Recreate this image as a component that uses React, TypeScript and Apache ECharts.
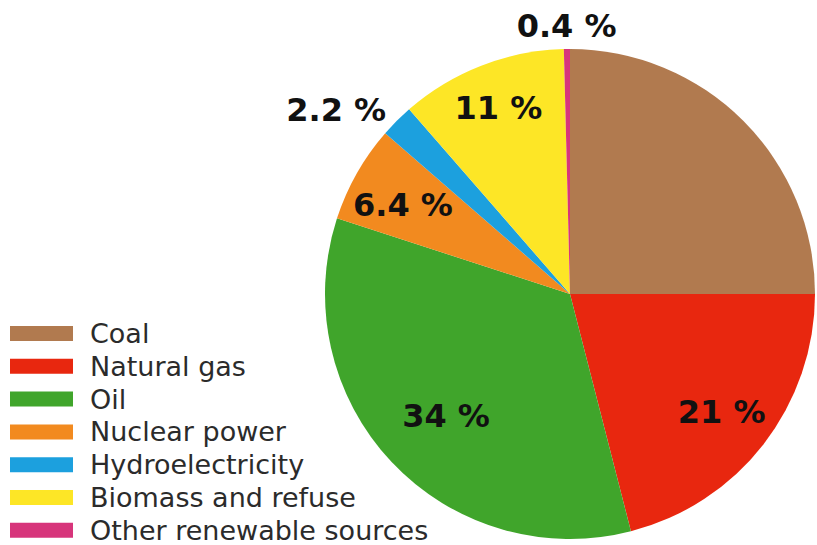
import { useEffect, useRef } from "react";
import * as echarts from "echarts";

const categories = [
  "Coal",
  "Natural gas",
  "Oil",
  "Nuclear power",
  "Hydroelectricity",
  "Biomass and refuse",
  "Other renewable sources",
];
const shares = [25, 21, 34, 6.4, 2.2, 11, 0.4];
const colors = ["#b17a4f", "#e8270f", "#40a52b", "#f28a1f", "#1ca0de", "#fde626", "#d7357b"];
const innerLabelled = ["Natural gas", "Oil", "Nuclear power", "Biomass and refuse"];
const outsideLabelled = ["Hydroelectricity"];
const topLabelled = ["Other renewable sources"];

export default function App() {
  const ref = useRef<HTMLDivElement>(null);
  useEffect(() => {
    const chart = echarts.init(ref.current!, null, { renderer: "svg" });
    const labelFont = {
      fontFamily: "DejaVu Sans",
      fontWeight: "bold" as const,
      fontSize: 32,
      color: "#111",
    };
    const fmt = (p: any) => `${p.value} %`;
    const center = [570, 294];
    const nudges: Record<string, { dx: number; dy: number }> = {
      Oil: { dx: 16, dy: -9 },
      "Nuclear power": { dx: 0, dy: 6 },
      "Biomass and refuse": { dx: -2, dy: -7 },
    };

    const mainData = categories.map((name, i) => ({
      name,
      value: shares[i],
      itemStyle: { color: colors[i] },
      label: { show: outsideLabelled.includes(name) },
    }));
    const innerData = categories.map((name, i) => ({
      name,
      value: shares[i],
      itemStyle: { color: "rgba(0,0,0,0)" },
      label: { show: innerLabelled.includes(name) },
    }));
    const topData = categories.map((name, i) => ({
      name,
      value: shares[i],
      itemStyle: { color: "rgba(0,0,0,0)" },
      label: { show: topLabelled.includes(name) },
    }));

    chart.setOption({
      animation: false,
      legend: {
        data: categories,
        orient: "vertical",
        left: 10,
        top: 320,
        height: 300,
        padding: 0,
        itemWidth: 63,
        itemHeight: 15,
        itemGap: 5.8,
        icon: "rect",
        selectedMode: false,
        textStyle: {
          fontFamily: "DejaVu Sans",
          fontSize: 27,
          color: "#2b2b2b",
          padding: [0, 0, 0, 12],
        },
      },
      series: [
        {
          type: "pie",
          center,
          radius: 245,
          startAngle: 90,
          clockwise: true,
          avoidLabelOverlap: false,
          silent: true,
          data: mainData,
          label: {
            position: "outside",
            formatter: fmt,
            distanceToLabelLine: 0,
            alignTo: "none",
            ...labelFont,
          },
          labelLine: { show: false, length: 15, length2: 0 },
        },
        {
          type: "pie",
          center,
          radius: [150, 228],
          startAngle: 90,
          clockwise: true,
          silent: true,
          data: innerData,
          label: { position: "inside", formatter: fmt, ...labelFont },
          labelLine: { show: false },
          labelLayout: (p: any) => {
            const n = nudges[categories[p.dataIndex]];
            return n ? { dx: n.dx, dy: n.dy } : {};
          },
        },
        {
          type: "pie",
          center,
          radius: [255, 275],
          startAngle: 90,
          clockwise: true,
          silent: true,
          data: topData,
          label: { position: "inside", formatter: fmt, ...labelFont },
          labelLine: { show: false },
        },
      ],
    });
    return () => chart.dispose();
  }, []);
  return (
    <div
      ref={ref}
      style={{ position: "absolute", left: 0, top: 0, width: 817, height: 545, background: "#fff" }}
    />
  );
}
